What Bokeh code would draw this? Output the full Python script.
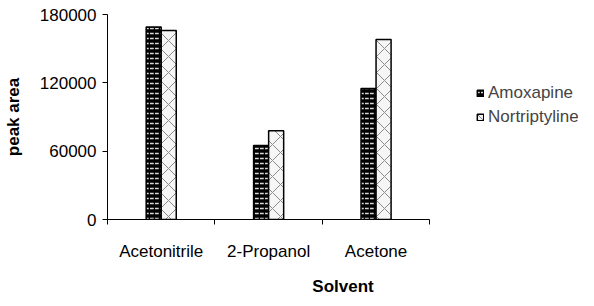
from bokeh.plotting import figure
from bokeh.models import ColumnDataSource, Range1d, FixedTicker, Legend, LegendItem
from bokeh.embed import file_html
from bokeh.resources import INLINE

solvents = ["Acetonitrile", "2-Propanol", "Acetone"]
amoxapine = [169000, 65000, 115000]
nortriptyline = [166000, 78000, 158000]
y_ticks = [0, 60000, 120000, 180000]

FONT = "Liberation Sans"
FS = "17px"
idx = list(range(len(solvents)))
n = len(solvents)
bw = 0.14

src_a = ColumnDataSource(dict(x=[i + 0.5 - bw / 2 for i in idx], top=amoxapine))
src_n = ColumnDataSource(dict(x=[i + 0.5 + bw / 2 for i in idx], top=nortriptyline))

W, H = 578, 298
left, top, bottom = 103, 14, 69
frame_w = W - left
x_end = n * frame_w / 325.0

p = figure(width=W, height=H, output_backend="svg", toolbar_location=None,
           x_range=Range1d(0, x_end), y_range=Range1d(0, 180000),
           min_border_left=left, min_border_right=0, min_border_top=top, min_border_bottom=bottom)
p.outline_line_color = None
p.xgrid.grid_line_color = None
p.ygrid.grid_line_color = None
p.background_fill_color = "white"
p.border_fill_color = "white"

ra = p.vbar(x="x", top="top", width=bw, source=src_a, fill_color="black", line_color="black",
            line_width=1.5, hatch_pattern="horizontal_dash", hatch_color="#d8d8d8",
            hatch_scale=5, hatch_weight=1.5)
rn = p.vbar(x="x", top="top", width=bw, source=src_n, fill_color="#f6f6f6", line_color="black",
            line_width=1.5, hatch_pattern="diagonal_cross", hatch_color="#8a8a8a",
            hatch_scale=16, hatch_weight=1)

xa = p.xaxis[0]
xa.bounds = (0, n)
xa.ticker = FixedTicker(ticks=[i + 0.5 for i in idx], minor_ticks=list(range(n + 1)))
xa.major_label_overrides = {i + 0.5: s for i, s in zip(idx, solvents)}
xa.major_tick_line_color = None
xa.major_tick_in = 0
xa.major_tick_out = 0
xa.minor_tick_in = 0
xa.minor_tick_out = 5
xa.minor_tick_line_color = "black"
xa.major_label_standoff = 17
xa.axis_label = "Solvent"
xa.axis_label_standoff = 13

ya = p.yaxis[0]
ya.ticker = FixedTicker(ticks=y_ticks)
ya.major_label_overrides = {v: str(v) for v in y_ticks}
ya.major_tick_in = 0
ya.major_tick_out = 5
ya.major_tick_line_color = "black"
ya.minor_tick_line_color = None
ya.major_label_standoff = 6
ya.axis_label = "peak area"
ya.axis_label_standoff = 14

for ax in (xa, ya):
    ax.axis_line_color = "black"
    ax.axis_line_width = 1
    ax.major_label_text_font = FONT
    ax.major_label_text_font_size = FS
    ax.major_label_text_color = "black"
    ax.axis_label_text_font = FONT
    ax.axis_label_text_font_size = FS
    ax.axis_label_text_font_style = "bold"
    ax.axis_label_text_color = "black"

legend = Legend(items=[LegendItem(label="Amoxapine", renderers=[ra]),
                       LegendItem(label="Nortriptyline", renderers=[rn])],
                location=(369, 90), orientation="vertical",
                glyph_width=8, glyph_height=8, label_height=24, label_width=40, spacing=0,
                padding=0, margin=0, label_standoff=4,
                label_text_font=FONT, label_text_font_size=FS,
                border_line_color=None, background_fill_alpha=0)
p.add_layout(legend, "center")

open("out.html", "w").write(file_html(p, INLINE))
